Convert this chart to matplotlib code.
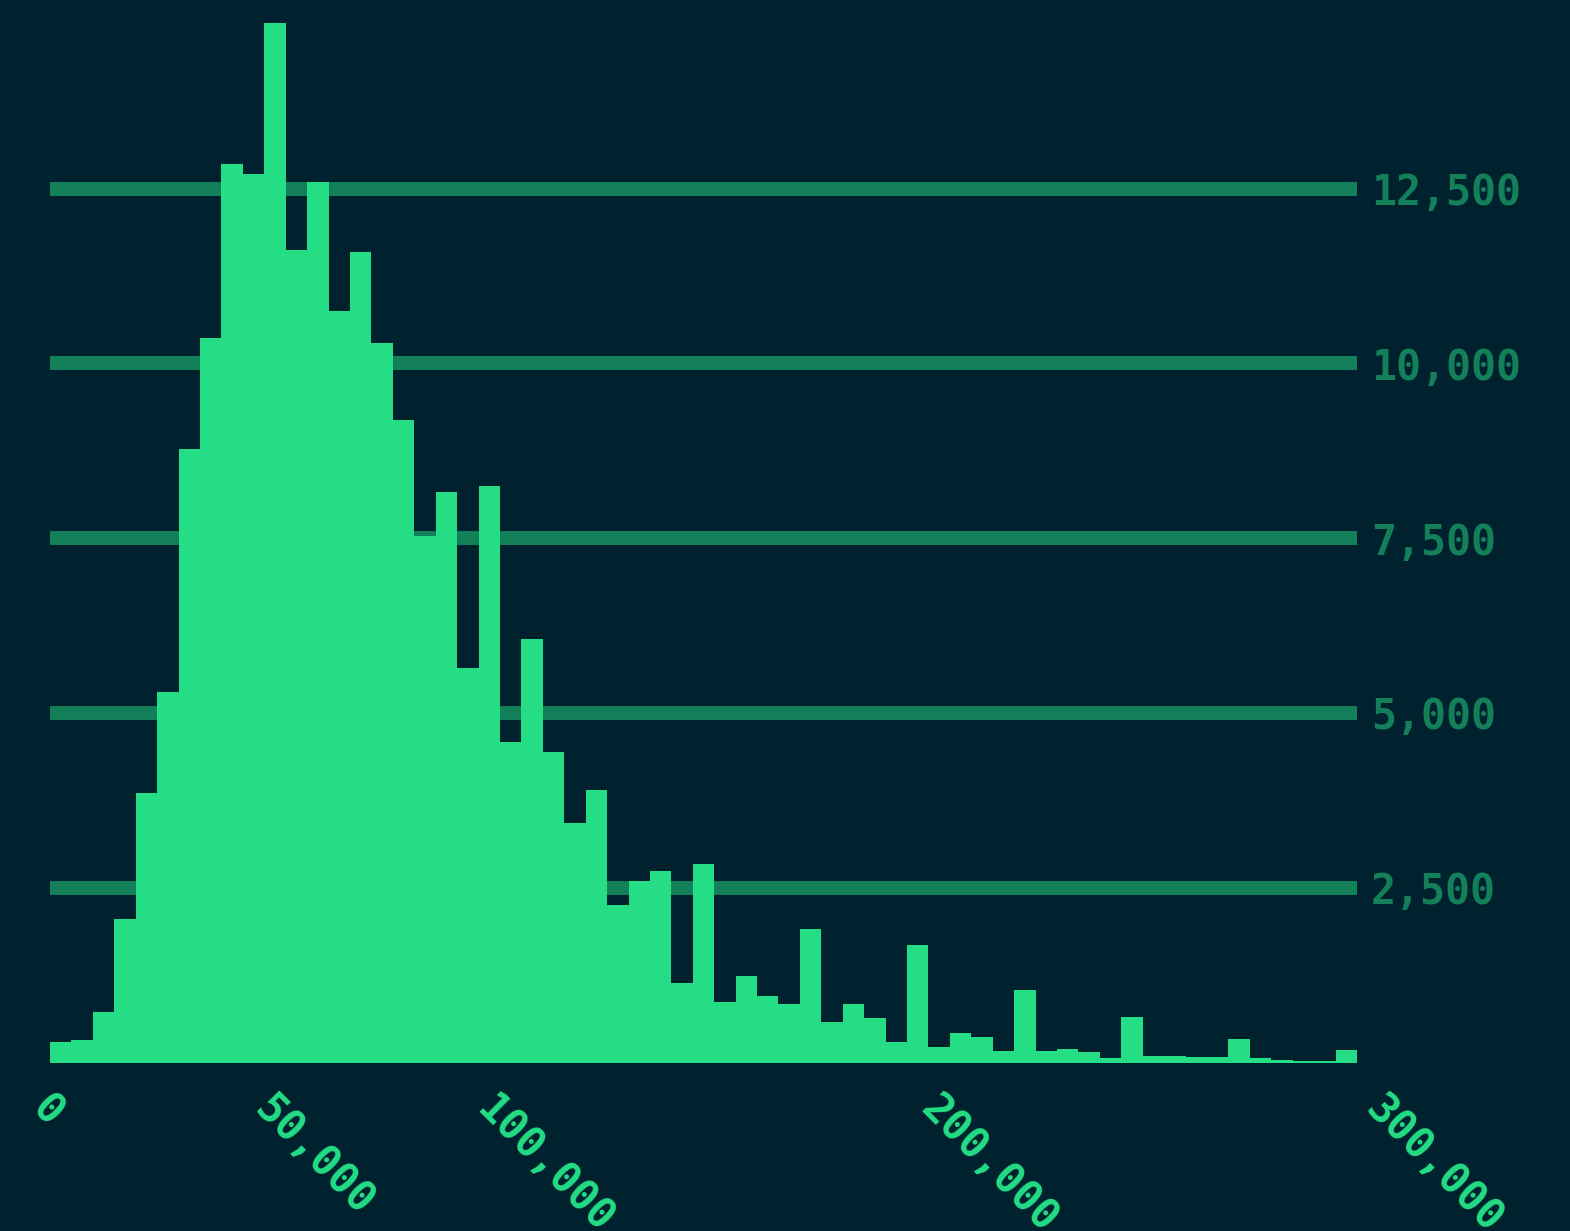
import numpy as np
import matplotlib
matplotlib.use("Agg")
import matplotlib.pyplot as plt
from matplotlib.ticker import FuncFormatter

# counts per bin (61 equal bins)
counts = [300, 315, 720, 2050, 3850, 5300, 8770, 10370, 12850, 12710,
          14870, 11620, 12590, 10750, 11600, 10300, 9190, 7535, 8165, 5640,
          8245, 4590, 6065, 4440, 3430, 3900, 2260, 2595, 2745, 1135,
          2835, 870, 1235, 955, 840, 1910, 585, 840, 640, 295,
          1675, 220, 425, 365, 170, 1035, 170, 195, 150, 70,
          655, 95, 95, 80, 85, 335, 60, 40, 25, 25, 180]
bin_start = 6000
bin_end = 300000
x_ticks = [50000, 100000, 200000, 300000]
y_ticks = [2500, 5000, 7500, 10000, 12500]

BG = "#00222e"
BAR = "#24dd85"
GRID = "#138059"
FONT = "DejaVu Sans Mono"

edges = np.linspace(bin_start, bin_end, len(counts) + 1)

fig = plt.figure(figsize=(15.7, 12.31), dpi=100, facecolor=BG)
ax = fig.add_axes([50 / 1570, 168.5 / 1231, 1307 / 1570, 1062.5 / 1231])
ax.set_facecolor(BG)

ax.bar(edges[:-1], counts, width=np.diff(edges), align="edge",
       color=BAR, linewidth=0, zorder=2)

ax.set_xlim(bin_start, bin_end)
ax.set_ylim(0, 15200)

for s in ax.spines.values():
    s.set_visible(False)

ax.set_axisbelow(True)
ax.grid(axis="y", color=GRID, linewidth=10, zorder=0)
ax.grid(axis="x", visible=False)

fmt = FuncFormatter(lambda v, p: f"{v:,.0f}")

ax.yaxis.tick_right()
ax.set_yticks(y_ticks)
ax.yaxis.set_major_formatter(fmt)
ax.tick_params(axis="y", length=0, pad=10, labelsize=30, labelcolor=GRID)

ax.set_xticks(x_ticks)
ax.xaxis.set_major_formatter(fmt)
ax.tick_params(axis="x", length=0, pad=18, labelsize=30, labelcolor=BAR)
for lab in ax.get_xticklabels():
    lab.set_rotation(-45)
    lab.set_ha("left")
    lab.set_va("top")

for lab in ax.get_xticklabels() + ax.get_yticklabels():
    lab.set_family(FONT)
    lab.set_weight("bold")

# the 0 label sits left of where the bars begin
ax.annotate("0", xy=(0, 0), xycoords=("data", "axes fraction"),
            xytext=(0, -18), textcoords="offset points",
            rotation=-45, ha="left", va="top", fontsize=30,
            color=BAR, family=FONT, weight="bold", annotation_clip=False)

fig.savefig("out.png", dpi=100, facecolor=BG)
